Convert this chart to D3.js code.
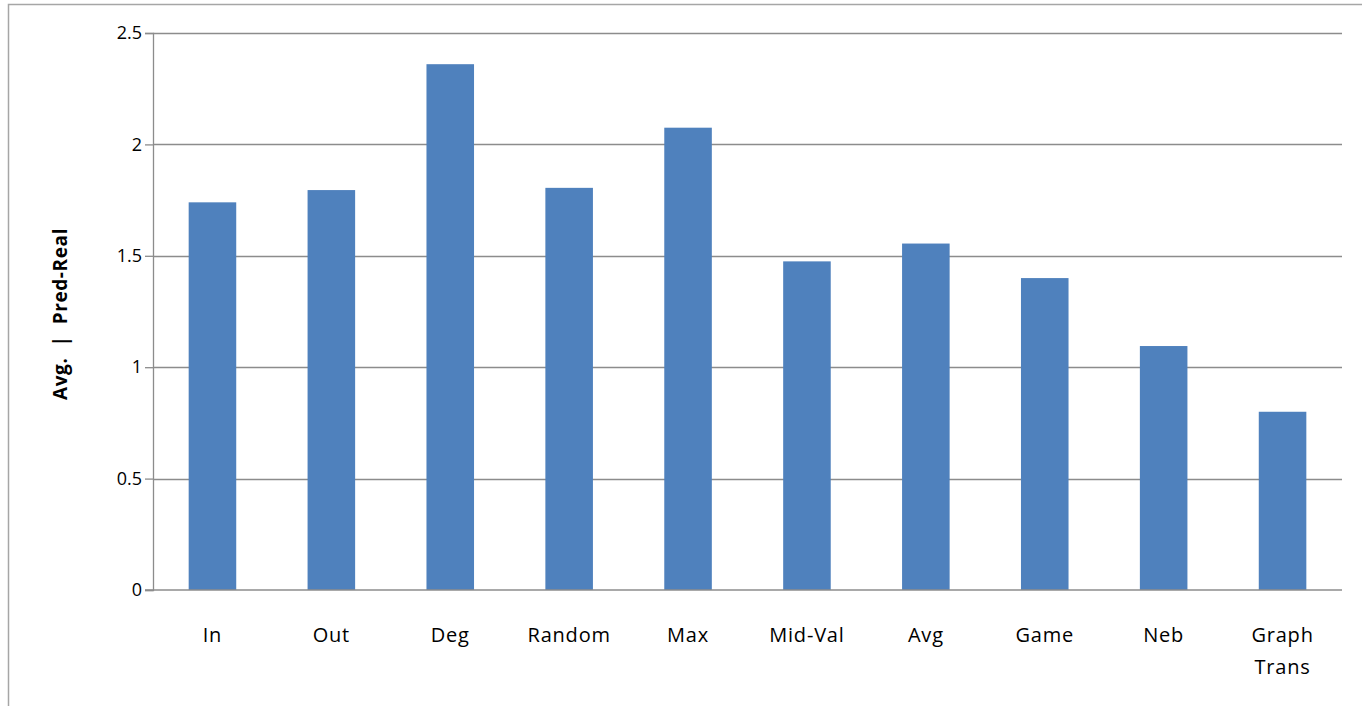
<!DOCTYPE html>
<html><head><meta charset="utf-8">
<script src="https://cdn.jsdelivr.net/npm/d3@7"></script>
<style>html,body{margin:0;padding:0;background:#fff;}svg{display:block;}</style>
</head><body>
<svg id="c" width="1362" height="706"></svg>
<script>
const categories = ["In","Out","Deg","Random","Max","Mid-Val","Avg","Game","Neb","Graph Trans"];
const values = [1.74, 1.795, 2.36, 1.805, 2.075, 1.475, 1.555, 1.40, 1.095, 0.80];
const yTicks = [0, 0.5, 1, 1.5, 2, 2.5];
const yLabel = "Avg.  |  Pred-Real";

const svg = d3.select("#c");
const font = "'Open Sans', 'Liberation Sans', sans-serif";
const m = {left:153, right:1342, top:33, bottom:590};

// outer frame
svg.append("path").attr("d","M8.5,706 V4.5 H1362").attr("fill","none").attr("stroke","#a6a6a6").attr("stroke-width",1.5);

const x = d3.scaleBand().domain(categories).range([m.left, m.right]).paddingInner(0.6).paddingOuter(0.3);
const y = d3.scaleLinear().domain([0, 2.5]).range([m.bottom, m.top]);

// gridlines
svg.append("g").selectAll("line").data(yTicks.filter(d=>d>0)).join("line")
  .attr("x1", m.left).attr("x2", m.right)
  .attr("y1", d=>Math.round(y(d))+0.5).attr("y2", d=>Math.round(y(d))+0.5)
  .attr("stroke","#8c8c8c").attr("stroke-width",1.3);

// bars
svg.append("g").selectAll("rect").data(values).join("rect")
  .attr("x",(d,i)=>x(categories[i])).attr("width",x.bandwidth())
  .attr("y",d=>y(d)).attr("height",d=>y(0)-y(d))
  .attr("fill","#4f81bd");

// y axis
const ya = svg.append("g").attr("transform",`translate(${m.left},0)`)
  .call(d3.axisLeft(y).tickValues(yTicks).tickSize(8).tickPadding(3).tickFormat(d=>String(d)));
ya.select(".domain").attr("stroke","#8c8c8c").attr("stroke-width",1.3);
ya.selectAll(".tick line").attr("stroke","#8c8c8c").attr("stroke-width",1.3);
ya.selectAll(".tick text").attr("font-family",font).attr("font-size",18).attr("fill","#000");

// x axis baseline
svg.append("line").attr("x1",m.left-8).attr("x2",m.right)
  .attr("y1",y(0)).attr("y2",y(0)).attr("stroke","#8c8c8c").attr("stroke-width",1.3);

// x labels
const xl = svg.append("g");
categories.forEach(c=>{
  const words = c.split(" ");
  const cx = x(c)+x.bandwidth()/2;
  const t = xl.append("text").attr("x", cx).attr("y", 642)
    .attr("text-anchor","middle").attr("font-family",font).attr("font-size",20)
    .attr("letter-spacing",0.8).attr("fill","#000");
  words.forEach((w,j)=>t.append("tspan").attr("x", cx).attr("dy", j===0?0:32).text(w));
});

// y label
svg.append("text").attr("transform",`translate(67,314) rotate(-90)`)
  .attr("text-anchor","middle").attr("font-family",font).attr("font-size",19).attr("font-weight","bold")
  .attr("letter-spacing",0.6).attr("fill","#000").style("white-space","pre").text(yLabel);
</script>
</body></html>
